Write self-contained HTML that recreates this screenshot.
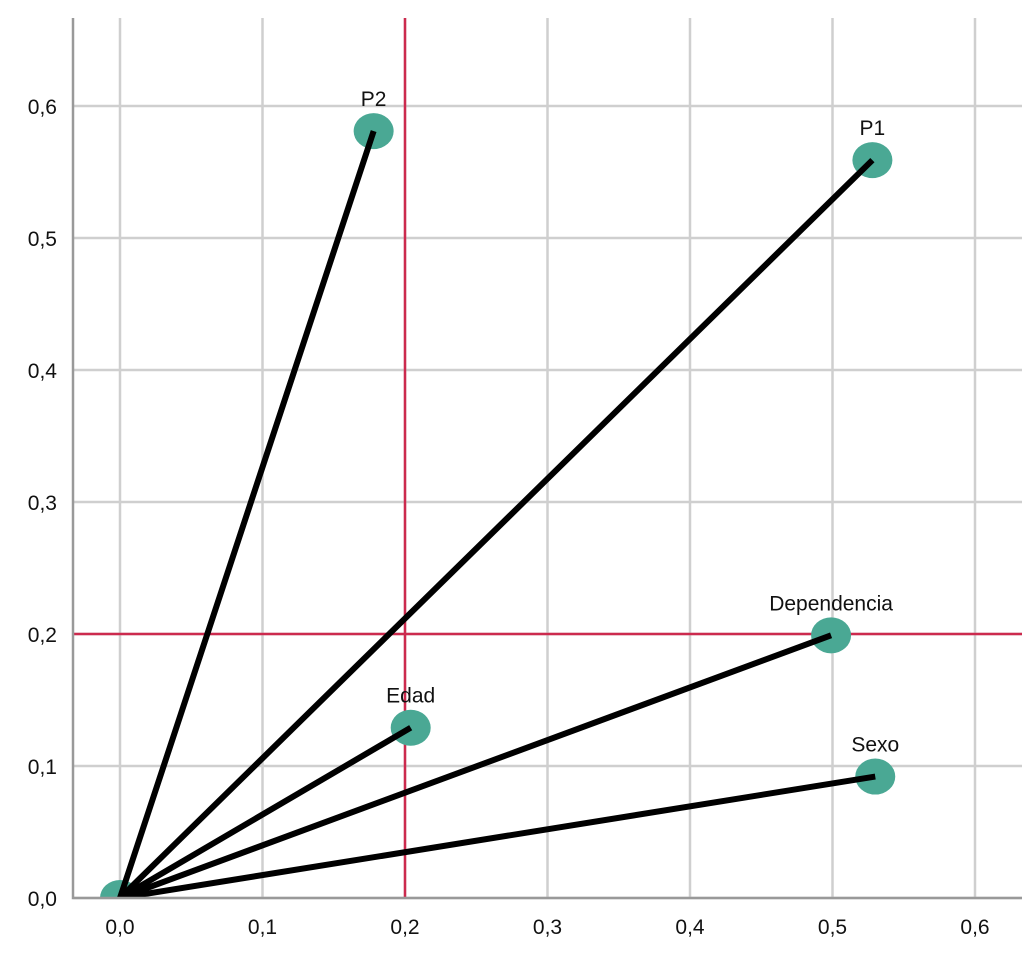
<!DOCTYPE html>
<html><head><meta charset="utf-8"><style>
body{margin:0;background:#fff}
svg text{font-family:"Liberation Sans",sans-serif;fill:#111}
</style></head><body>
<svg id="c" width="1035" height="960"><defs><clipPath id="pc"><rect x="73" y="18" width="949" height="880"/></clipPath></defs></svg>
<script>
const xTicks=[0,0.1,0.2,0.3,0.4,0.5,0.6];
const yTicks=[0,0.1,0.2,0.3,0.4,0.5,0.6];
const names=["P2","P1","Dependencia","Edad","Sexo"];
const xs=[0.178,0.528,0.499,0.204,0.530];
const ys=[0.581,0.559,0.199,0.129,0.092];
const refX=[0.2];
const refY=[0.2];
const sx=v=>120+v*1425, sy=v=>898-v*1320;
const L=73,R=1022,T=18,B=898;
const svg=document.getElementById('c');
const NS="http://www.w3.org/2000/svg";
function mk(t,a,p){const e=document.createElementNS(NS,t);for(const k in a)e.setAttribute(k,a[k]);(p||svg).appendChild(e);return e;}
xTicks.forEach(v=>{
 const g=mk('line',{x1:sx(v),x2:sx(v),y1:T,y2:B,stroke:'#cfcfcf','stroke-width':2.5});
 
 
 const t=mk('text',{x:sx(v),y:934,'text-anchor':'middle','font-size':21});t.textContent=v.toFixed(1).replace('.',',');
 
 
});
yTicks.forEach(v=>{
 const g=mk('line',{x1:L,x2:R,y1:sy(v),y2:sy(v),stroke:'#cfcfcf','stroke-width':2.5});
 
 
 const t=mk('text',{x:57,y:sy(v)+8,'text-anchor':'end','font-size':21});t.textContent=v.toFixed(1).replace('.',',');
 
 
});
const g=mk('g',{'clip-path':'url(#pc)'});
refX.forEach(v=>{const l=mk('line',{x1:sx(v),x2:sx(v),y1:T,y2:B,stroke:'#cc2a4e','stroke-width':2.5},g);
 
 });
refY.forEach(v=>{const l=mk('line',{x1:L,x2:R,y1:sy(v),y2:sy(v),stroke:'#cc2a4e','stroke-width':2.5},g);
 
 });
const o=mk('ellipse',{cx:sx(0),cy:sy(0),rx:20,ry:18,fill:'#4aa894'},g);


names.forEach((n,i)=>{
 const c=mk('ellipse',{cx:sx(xs[i]),cy:sy(ys[i]),rx:20,ry:18,fill:'#4aa894'},g);
 
 
});
names.forEach((n,i)=>{
 const l=mk('line',{x1:sx(0),y1:sy(0),x2:sx(xs[i]),y2:sy(ys[i]),stroke:'#000','stroke-width':6},g);
 
 
 const t=mk('text',{x:sx(xs[i]),y:sy(ys[i])-25,'text-anchor':'middle','font-size':21});t.textContent=n;
 
 
});
const ax=mk('path',{d:`M${L},${T}V${B}H${R}`,stroke:'#999',fill:'none','stroke-width':2.5});


</script>
</body></html>
